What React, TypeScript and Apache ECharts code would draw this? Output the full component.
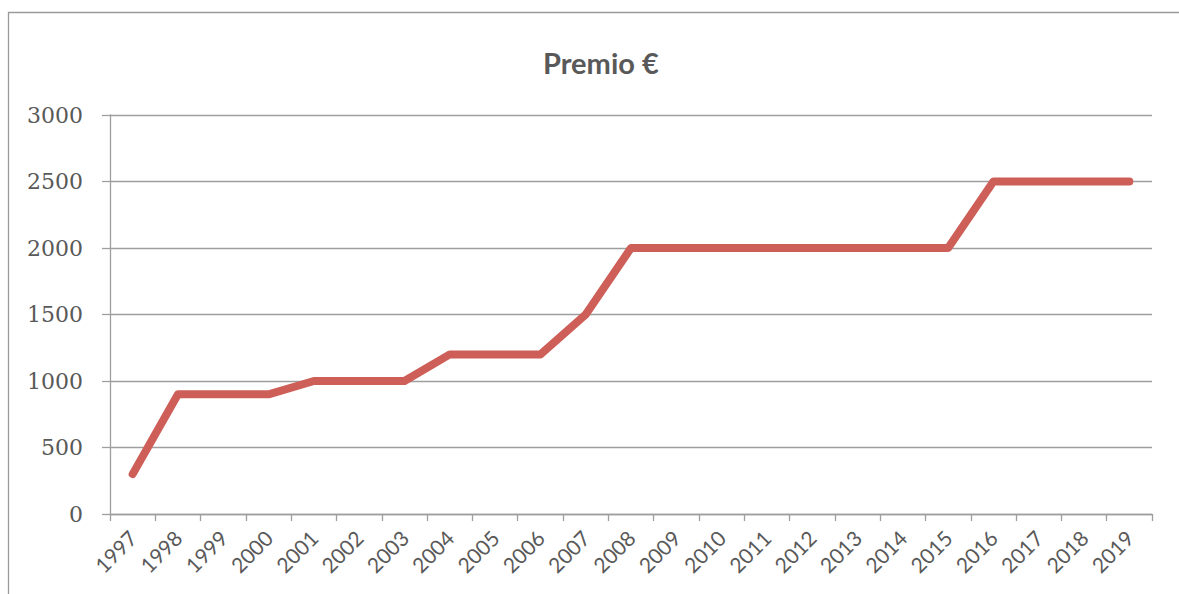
import React, { useEffect, useRef } from "react";
import * as echarts from "echarts";

const years = [
  "1997", "1998", "1999", "2000", "2001", "2002", "2003", "2004", "2005", "2006", "2007", "2008",
  "2009", "2010", "2011", "2012", "2013", "2014", "2015", "2016", "2017", "2018", "2019",
];
const premio = [
  300, 900, 900, 900, 1000, 1000, 1000, 1200, 1200, 1200, 1500, 2000,
  2000, 2000, 2000, 2000, 2000, 2000, 2000, 2500, 2500, 2500, 2500,
];
const yMin = 0;
const yMax = 3000;
const yStep = 500;
const titleText = "Premio €";

export default function App() {
  const ref = useRef<HTMLDivElement>(null);
  useEffect(() => {
    document.body.style.margin = "0";
    if (!ref.current) return;
    const chart = echarts.init(ref.current, null, { renderer: "svg" });
    const gray = "#9e9e9e";
    chart.setOption({
      animation: false,
      backgroundColor: "#ffffff",
      title: {
        text: titleText,
        left: 538,
        top: 43,
        textStyle: { fontFamily: "Lato", fontWeight: "bold", fontSize: 29, color: "#595959" },
      },
      graphic: [
        {
          type: "rect",
          shape: { x: 8.5, y: 12.5, width: 1300, height: 800 },
          style: { fill: "none", stroke: "#9a9a9a", lineWidth: 1.3 },
          silent: true,
        },
      ],
      grid: { left: 110, right: 27, top: 115, bottom: 80 },
      xAxis: {
        type: "category",
        data: years,
        boundaryGap: true,
        axisLine: { lineStyle: { color: gray, width: 1.3 } },
        axisTick: { show: true, length: 7, alignWithLabel: false, lineStyle: { color: gray, width: 1.3 } },
        axisLabel: {
          rotate: 45,
          margin: 20,
          interval: 0,
          fontFamily: "Lato",
          fontSize: 21,
          color: "#595959",
        },
      },
      yAxis: {
        type: "value",
        min: yMin,
        max: yMax,
        interval: yStep,
        axisLine: { show: true, lineStyle: { color: gray, width: 1.3 } },
        axisTick: { show: true, length: 8, lineStyle: { color: gray, width: 1.3 } },
        splitLine: { lineStyle: { color: gray, width: 1.3 } },
        axisLabel: {
          margin: 27,
          fontFamily: "DejaVu Serif",
          fontSize: 22,
          color: "#595959",
          formatter: (v: number) => String(v),
        },
      },
      series: [
        {
          type: "line",
          data: premio,
          showSymbol: false,
          symbol: "none",
          lineStyle: { color: "#CD5F58", width: 8, cap: "round", join: "round" },
          itemStyle: { color: "#CD5F58" },
        },
      ],
    });
    return () => chart.dispose();
  }, []);
  return <div ref={ref} style={{ width: 1179, height: 594 }} />;
}
